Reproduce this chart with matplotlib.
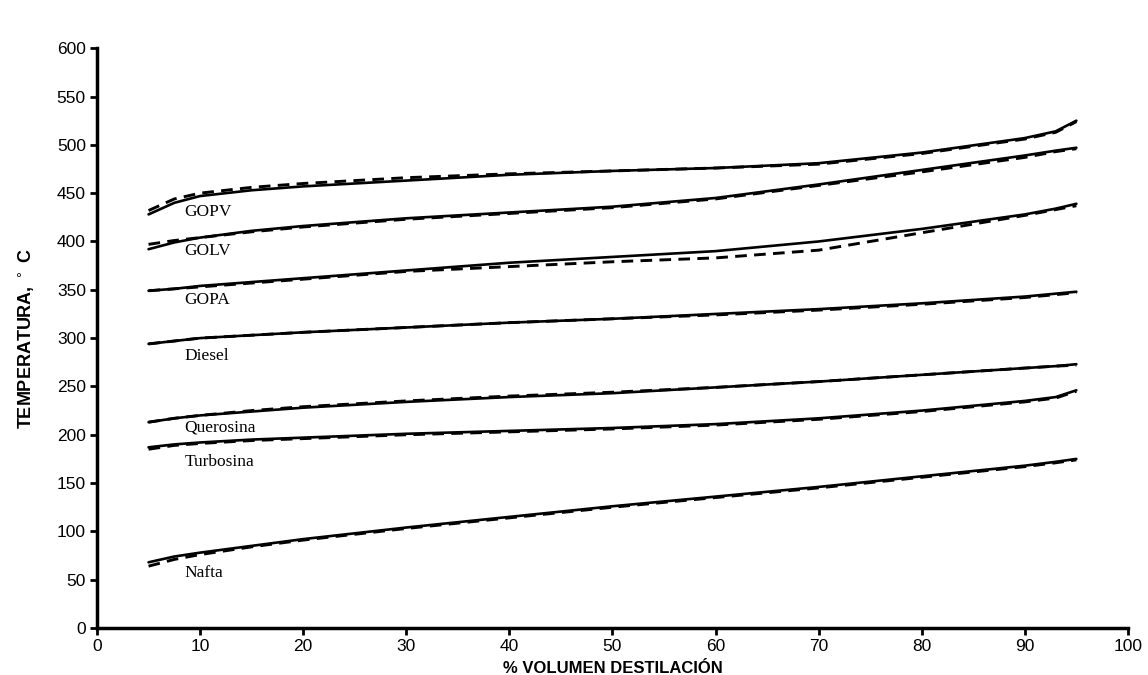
import matplotlib
matplotlib.use("Agg")
import matplotlib.pyplot as plt

# % volumen destilado
x = [5, 7.5, 10, 15, 20, 30, 40, 50, 60, 70, 80, 90, 93, 95]

# curvas (continua = calculada, discontinua = experimental)
gopv_s = [428, 440, 447, 453, 457, 463, 469, 473, 476, 481, 492, 507, 514, 525]
gopv_d = [432, 444, 450, 456, 460, 466, 470, 473, 476, 480, 491, 506, 513, 524]
golv_s = [392, 399, 404, 411, 416, 424, 430, 436, 445, 459, 474, 489, 494, 497]
golv_d = [397, 401, 404, 410, 415, 423, 429, 435, 444, 458, 472, 487, 493, 496]
gopa_s = [349, 351, 354, 358, 362, 370, 378, 384, 390, 400, 413, 428, 434, 439]
gopa_d = [349, 351, 353, 357, 361, 369, 374, 379, 383, 391, 409, 427, 433, 437]
diesel_s = [294, 297, 300, 303, 306, 311, 316, 320, 325, 330, 336, 343, 346, 348]
diesel_d = [294, 297, 300, 303, 306, 311, 316, 320, 324, 329, 335, 342, 345, 347]
quer_s = [213, 217, 220, 224, 228, 234, 239, 243, 249, 255, 262, 269, 271, 273]
quer_d = [213, 217, 220, 225, 229, 235, 240, 244, 249, 255, 262, 269, 271, 272]
turbo_s = [187, 190, 192, 195, 197, 201, 204, 207, 211, 217, 225, 235, 239, 246]
turbo_d = [185, 189, 191, 194, 196, 200, 203, 206, 210, 216, 224, 234, 238, 245]
nafta_s = [68, 74, 78, 85, 92, 104, 115, 126, 136, 146, 157, 168, 172, 175]
nafta_d = [64, 71, 76, 84, 91, 103, 114, 125, 135, 145, 156, 167, 171, 174]

series = [(gopv_s, gopv_d), (golv_s, golv_d), (gopa_s, gopa_d), (diesel_s, diesel_d),
          (quer_s, quer_d), (turbo_s, turbo_d), (nafta_s, nafta_d)]

names = ["GOPV", "GOLV", "GOPA", "Diesel", "Querosina", "Turbosina", "Nafta"]
name_y = [430, 390, 339, 282, 207, 172, 57]

fig = plt.figure(figsize=(11.48, 6.75), dpi=100)
ax = fig.add_axes([0.0845, 0.0696, 0.898, 0.859])

for s, d in series:
    ax.plot(x, s, color="black", lw=1.9, solid_capstyle="round")
    ax.plot(x, d, color="black", lw=2.1, ls=(0, (4, 2.5)))

for n, yy in zip(names, name_y):
    ax.text(8.5, yy, n, family="Liberation Serif", fontsize=12.5, va="center", ha="left")

ax.set_xlim(0, 100)
ax.set_ylim(0, 600)
ax.set_xticks(range(0, 101, 10))
ax.set_yticks(range(0, 601, 50))
for sp in ["top", "right"]:
    ax.spines[sp].set_visible(False)
for sp in ["left", "bottom"]:
    ax.spines[sp].set_linewidth(2.5)
ax.tick_params(direction="out", length=5, width=2, labelsize=12.5, pad=3)
for lab in ax.get_xticklabels() + ax.get_yticklabels():
    lab.set_family("Liberation Sans")

ax.set_xlabel("% VOLUMEN DESTILACIÓN", family="Liberation Sans", fontweight="bold", fontsize=12, labelpad=5)
ax.set_ylabel("TEMPERATURA, $^\\circ$ C", family="Liberation Sans", fontweight="bold", fontsize=13, labelpad=14)

fig.savefig("out.png", dpi=100)
